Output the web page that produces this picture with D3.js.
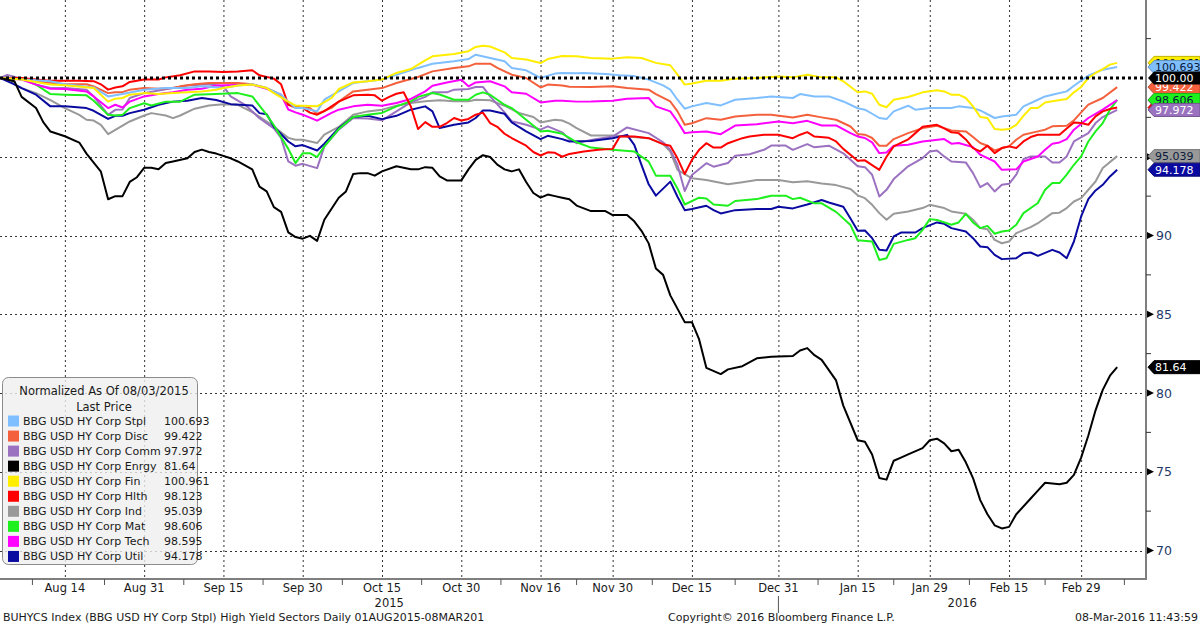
<!DOCTYPE html>
<html><head><meta charset="utf-8">
<script src="https://cdn.jsdelivr.net/npm/d3@7"></script>
<style>html,body{margin:0;padding:0;background:#fff;} svg{display:block;} text{font-family:"DejaVu Sans",sans-serif;}</style>
</head><body><svg id="c" width="1200" height="626"></svg>
<script>
// ---------- DATA (x = trading session number since 03-Aug-2015, y = normalized price) ----------
const seriesNames = ["BBG USD HY Corp Stpl","BBG USD HY Corp Disc","BBG USD HY Corp Comm","BBG USD HY Corp Enrgy","BBG USD HY Corp Fin","BBG USD HY Corp Hlth","BBG USD HY Corp Ind","BBG USD HY Corp Mat","BBG USD HY Corp Tech","BBG USD HY Corp Util"];
const seriesColors = ["#7fbfff","#f4603c","#9b72c0","#000000","#ffee00","#ff0000","#999999","#1ef01e","#ff00ff","#0a0aa0"];
const lastPrices = ["100.693","99.422","97.972","81.64","100.961","98.123","95.039","98.606","98.595","94.178"];

const stplData = [[0,100],[5,99.85],[7,99.8],[9,99.6],[13,99.4],[15,98.83],[17,98.98],[20,99.26],[23,99.36],[26,99.36],[28,99.47],[31,99.36],[33,99.53],[35,99.6],[37,99.36],[39,98.94],[40,98.5],[41,98.1],[42,98.1],[44,97.88],[45,98.62],[47,99.15],[49,99.68],[51,99.79],[53,99.9],[55,100.2],[58,100.64],[60,100.9],[63,101.06],[65,101.2],[66,101.48],[68,101.27],[70,101.06],[71,100.64],[73,100.49],[75,100.0],[77,100.28],[78,100.32],[80,100.3],[81,100.32],[84,100.25],[86,100.17],[88,100.12],[90,99.9],[92,99.53],[93,99.26],[94,98.62],[95,98.05],[96,98.2],[98,98.41],[100,98.26],[102,98.62],[105,98.73],[107,98.83],[110,98.73],[111,98.98],[113,98.83],[115,98.83],[117,98.51],[119,98.08],[120,97.99],[121,97.73],[122,97.46],[123,97.39],[124,97.88],[126,98.24],[127,97.99],[129,98.09],[132,98.09],[133,98.2],[135,98.09],[136,97.94],[138,97.46],[139,97.56],[141,97.67],[142,98.2],[144,98.62],[145,98.83],[146,98.94],[148,99.15],[149,99.51],[151,100.15],[153,100.53],[155,100.693]];
const discData = [[0,100],[3,99.96],[5,99.8],[7,99.7],[9,99.6],[12,99.6],[13,99.47],[15,99.04],[16,99.1],[17,99.1],[18,99.26],[20,99.36],[22,99.32],[24,99.36],[25,99.47],[27,99.6],[29,99.68],[33,99.68],[35,99.6],[37,99.36],[38,99.15],[39,98.83],[40,98.3],[41,98.1],[43,98.1],[44,97.73],[46,98.1],[47,98.5],[49,99.15],[51,99.26],[53,99.36],[55,99.68],[58,100.06],[60,100.42],[63,100.64],[65,100.74],[66,100.91],[68,100.91],[69,100.64],[71,100.21],[73,100.0],[75,99.4],[76,99.58],[78,99.52],[79,99.45],[82,99.43],[85,99.47],[87,99.36],[90,99.26],[91,98.98],[93,98.51],[94,97.88],[95,97.03],[96,97.13],[98,97.45],[100,97.35],[102,97.56],[105,97.66],[107,97.66],[110,97.49],[112,97.66],[114,97.5],[116,97.35],[118,96.92],[119,96.45],[120,96.4],[121,96.19],[122,95.7],[123,95.7],[124,96.12],[126,96.5],[128,96.82],[130,96.97],[131,96.82],[132,96.67],[134,96.61],[135,96.25],[136,95.87],[137,95.7],[138,95.4],[139,95.55],[140,95.66],[141,96.08],[142,96.4],[144,96.61],[145,96.72],[146,96.93],[148,96.97],[149,97.31],[150,97.82],[151,98.31],[153,98.73],[155,99.422]];
const commData = [[0,100],[1,100.2],[3,99.96],[5,99.58],[7,99.36],[9,99.36],[12,99.26],[13,98.83],[15,97.66],[16,97.98],[17,98.0],[18,98.73],[20,99.04],[22,99.2],[24,99.36],[26,99.53],[29,99.6],[31,99.47],[32,98.83],[34,98.3],[36,97.45],[38,96.8],[39,96.2],[40,94.7],[41,94.43],[42,94.55],[44,94.28],[45,95.66],[47,96.72],[49,97.46],[51,97.43],[53,97.31],[55,97.88],[57,98.45],[59,98.8],[60,99.09],[62,99.09],[63,99.26],[65,99.3],[66,99.43],[67,99.43],[68,98.83],[70,97.82],[71,97.25],[73,97.03],[75,96.72],[76,96.93],[78,96.55],[79,96.12],[80,95.86],[82,96.07],[85,96.28],[87,96.86],[90,96.5],[92,95.92],[93,95.44],[94,94.48],[95,92.82],[96,93.84],[98,94.59],[99,94.37],[101,94.6],[102,95.07],[104,95.16],[106,95.44],[107,95.71],[109,95.71],[110,95.44],[112,95.8],[113,95.6],[115,95.7],[117,95.22],[119,94.4],[120,94.34],[121,93.86],[122,92.48],[123,92.9],[124,93.58],[126,94.39],[128,94.92],[129,95.34],[130,95.4],[131,95.02],[132,94.7],[134,94.64],[135,93.96],[136,93.07],[137,93.33],[138,92.8],[139,93.22],[140,93.28],[141,93.86],[142,94.85],[143,95.02],[145,95.02],[146,94.64],[147,94.64],[148,95.02],[149,95.97],[151,96.5],[152,97.14],[153,97.52],[155,97.972]];
const enrgyData = [[0,100],[2,99.8],[3,98.8],[5,98.1],[6,97.2],[7,96.6],[9,96.3],[11,95.9],[12,95.2],[14,94.05],[15,92.3],[16,92.5],[17,92.5],[18,93.4],[19,93.7],[20,94.3],[21,94.3],[22,94.2],[23,94.6],[24,94.7],[26,94.9],[27,95.3],[28,95.45],[29,95.3],[30,95.2],[32,94.9],[33,94.7],[35,94.2],[36,93.1],[37,92.8],[38,91.8],[39,91.5],[40,90.2],[41,89.9],[42,89.8],[43,89.98],[44,89.66],[45,91.0],[47,92.4],[48,92.8],[49,93.9],[50,93.96],[51,93.96],[52,93.8],[53,94.07],[55,94.4],[56,94.3],[57,94.2],[58,94.2],[59,94.34],[60,94.3],[61,93.75],[62,93.5],[64,93.5],[65,94.2],[66,94.8],[67,95.1],[68,94.98],[69,94.5],[70,94.2],[71,94.07],[72,94.2],[73,93.4],[74,92.7],[75,92.4],[76,92.6],[77,92.5],[78,92.4],[79,92.3],[80,91.9],[82,91.55],[84,91.55],[85,91.3],[87,91.3],[88,90.9],[89,90.3],[90,89.5],[91,87.9],[92,87.5],[93,86.2],[95,84.5],[96,84.5],[97,83.4],[98,81.6],[100,81.2],[101,81.5],[103,81.7],[105,82.2],[107,82.3],[110,82.35],[111,82.7],[112,82.85],[113,82.4],[114,82.1],[116,80.8],[117,79.2],[119,77.0],[120,76.9],[121,76.1],[122,74.6],[123,74.5],[124,75.7],[125,75.9],[126,76.1],[128,76.5],[129,77.0],[130,77.1],[131,76.8],[132,76.3],[133,76.4],[134,75.6],[135,74.6],[136,73.2],[137,72.3],[138,71.6],[139,71.4],[140,71.5],[141,72.3],[143,73.3],[144,73.8],[145,74.3],[147,74.2],[148,74.3],[149,74.8],[150,75.9],[151,77.3],[152,78.9],[153,80.2],[154,81.1],[155,81.64]];
const finData = [[0,100],[3,99.9],[5,99.75],[7,99.58],[9,99.54],[13,99.36],[15,98.5],[16,98.69],[17,98.73],[18,98.94],[20,99.04],[22,98.98],[24,99.04],[26,99.1],[28,99.15],[30,99.26],[31,99.36],[33,99.53],[35,99.58],[37,99.36],[38,99.04],[40,98.5],[41,98.24],[42,98.24],[44,98.2],[46,98.73],[47,99.3],[49,99.72],[51,99.79],[53,99.9],[55,100.32],[57,100.57],[59,101.12],[60,101.38],[62,101.48],[63,101.53],[65,101.7],[66,101.97],[67,102.05],[68,102.0],[70,101.63],[71,101.27],[73,101.17],[75,100.95],[76,101.2],[78,101.4],[80,101.38],[82,101.27],[85,101.23],[87,101.32],[89,101.27],[91,100.96],[93,100.81],[94,100.21],[95,99.58],[96,99.65],[98,99.83],[100,99.83],[102,99.96],[105,100.0],[108,100.1],[110,100.04],[112,100.21],[114,100.04],[116,100.04],[117,99.79],[119,99.1],[120,99.15],[121,99.0],[122,98.3],[123,98.14],[124,98.62],[126,98.79],[127,98.94],[128,99.09],[130,99.22],[131,99.15],[132,98.94],[133,98.94],[134,98.73],[135,98.2],[136,97.52],[137,97.46],[138,96.76],[139,96.72],[140,96.76],[141,97.03],[142,97.6],[143,98.09],[144,98.09],[145,98.45],[146,98.52],[148,98.67],[149,99.09],[150,99.43],[151,100.0],[152,100.32],[153,100.57],[154,100.85],[155,100.961]];
const hlthData = [[0,100],[3,100],[5,99.9],[7,99.83],[11,99.83],[13,99.8],[14,99.6],[15,99.26],[16,99.4],[17,99.47],[18,99.75],[20,99.9],[22,99.9],[23,100.04],[25,100.17],[27,100.42],[29,100.42],[31,100.38],[33,100.42],[35,100.49],[36,100.17],[38,99.96],[39,99.6],[40,98.3],[41,98.2],[42,98.1],[43,97.8],[44,97.67],[45,97.9],[47,98.5],[49,98.9],[51,98.94],[52,98.9],[53,98.56],[54,98.8],[55,99.0],[56,99.1],[57,98.2],[58,96.76],[59,97.2],[60,96.9],[61,96.9],[62,97.14],[63,97.46],[64,97.3],[65,97.4],[66,97.67],[67,97.8],[68,97.14],[69,96.9],[70,96.46],[71,96.19],[73,95.7],[74,95.3],[75,95.08],[76,95.28],[77,95.25],[78,95.0],[79,95.18],[81,95.33],[83,95.44],[85,95.5],[86,96.28],[88,96.28],[90,96.18],[92,95.8],[93,95.7],[94,94.9],[95,93.9],[96,94.8],[97,95.44],[98,95.86],[99,95.58],[100,95.58],[101,95.86],[103,96.18],[104,96.28],[106,96.4],[108,96.4],[110,96.18],[111,96.4],[112,96.56],[113,96.28],[115,96.2],[116,95.97],[117,95.5],[119,94.75],[120,94.77],[122,94.17],[123,95.0],[124,95.66],[126,96.1],[127,96.5],[128,96.9],[130,97.03],[131,96.8],[132,96.55],[133,96.5],[134,96.1],[135,95.55],[136,95.34],[137,95.7],[138,95.23],[139,95.55],[140,95.66],[141,95.55],[142,95.97],[143,96.25],[144,96.4],[147,96.4],[148,96.8],[149,97.18],[150,97.14],[151,97.03],[152,97.56],[153,97.88],[154,98.03],[155,98.123]];
const indData = [[0,100],[1,100.15],[2,99.6],[3,99.36],[5,99.04],[7,98.6],[9,98.09],[11,97.66],[12,97.35],[13,97.3],[14,97.03],[15,96.43],[16,96.7],[17,96.98],[18,97.24],[20,97.62],[21,97.77],[23,97.62],[24,97.45],[25,97.62],[27,98.05],[29,98.26],[31,98.34],[33,98.3],[35,97.83],[37,97.24],[38,96.9],[40,96.2],[41,96.08],[42,96.08],[44,95.87],[45,96.4],[47,96.89],[49,97.67],[51,97.88],[53,97.99],[55,98.24],[57,98.41],[59,98.52],[61,98.58],[63,98.52],[65,98.52],[66,98.62],[68,98.58],[70,98.24],[72,97.78],[74,97.52],[75,97.18],[77,97.35],[78,97.3],[79,97.1],[80,96.82],[82,96.35],[85,96.35],[87,96.28],[90,96.18],[92,95.8],[93,95.33],[94,94.16],[96,93.63],[98,93.52],[101,93.25],[103,93.38],[105,93.52],[108,93.52],[110,93.38],[112,93.45],[114,93.3],[116,93.2],[118,92.95],[119,92.55],[120,92.37],[121,91.95],[122,91.42],[123,91.0],[124,91.38],[126,91.53],[128,91.74],[129,91.95],[131,91.74],[132,91.53],[134,91.38],[135,91.0],[136,90.47],[137,90.4],[138,89.72],[139,89.51],[140,89.62],[141,90.15],[143,90.53],[144,90.78],[146,91.42],[147,91.45],[148,91.74],[149,92.16],[150,92.37],[152,93.43],[153,94.28],[155,95.039]];
const matData = [[0,100],[3,99.96],[5,99.58],[7,98.98],[9,98.94],[12,98.9],[13,98.56],[15,97.66],[16,97.62],[17,97.66],[18,98.09],[20,98.4],[21,98.25],[23,98.5],[25,98.5],[27,98.94],[30,98.98],[33,99.04],[35,98.83],[37,97.66],[38,97.0],[40,95.5],[41,94.6],[42,95.23],[43,95.23],[44,94.98],[45,95.66],[47,96.76],[49,97.52],[51,97.67],[53,97.78],[55,98.2],[57,98.52],[58,98.8],[60,99.05],[61,98.95],[63,98.62],[65,98.62],[66,98.94],[67,99.09],[68,98.94],[70,98.3],[71,98.09],[73,97.35],[75,96.6],[76,96.65],[78,96.46],[79,96.2],[80,95.92],[82,95.58],[85,95.44],[88,95.33],[90,94.69],[91,93.8],[93,93.8],[94,92.99],[95,91.97],[97,92.4],[98,92.35],[99,91.97],[101,91.89],[102,92.19],[105,92.31],[107,92.53],[109,92.53],[110,92.31],[111,92.4],[113,92.04],[114,92.04],[116,91.5],[118,90.66],[119,89.7],[121,89.62],[122,88.45],[123,88.56],[124,89.47],[126,89.72],[127,89.83],[128,90.36],[129,91.04],[130,90.99],[132,90.68],[133,90.83],[134,91.38],[135,90.83],[136,90.47],[137,90.61],[138,90.11],[139,90.25],[140,90.32],[141,90.68],[142,91.42],[144,92.06],[145,92.9],[146,93.33],[147,93.33],[148,93.86],[149,94.49],[150,95.02],[151,95.97],[152,96.61],[153,97.14],[154,97.99],[155,98.606]];
const techData = [[0,100],[3,99.9],[5,99.58],[7,99.32],[9,99.3],[12,99.15],[13,98.83],[15,98.09],[16,98.3],[17,98.13],[18,98.5],[20,98.83],[22,98.98],[24,99.1],[26,99.26],[28,99.32],[30,99.53],[35,99.58],[37,99.32],[39,98.94],[40,98.0],[41,97.82],[42,97.67],[44,97.29],[46,97.78],[47,97.99],[49,98.2],[51,98.3],[53,98.24],[55,98.41],[57,98.67],[59,99.15],[60,99.51],[62,99.72],[64,99.89],[65,99.47],[66,99.72],[68,99.79],[70,99.47],[71,99.09],[73,99.0],[75,98.45],[77,98.55],[78,98.55],[80,98.5],[82,98.51],[85,98.56],[87,98.68],[90,98.73],[91,98.2],[93,97.88],[94,97.24],[95,96.5],[96,96.56],[98,96.6],[100,96.43],[102,96.98],[105,97.07],[108,97.24],[110,97.13],[112,97.28],[114,96.98],[116,96.99],[118,96.5],[119,96.29],[120,96.19],[121,95.91],[122,95.23],[123,95.27],[124,95.7],[126,95.76],[128,95.97],[131,96.12],[132,95.83],[133,95.87],[135,95.61],[136,95.13],[138,94.7],[139,94.17],[141,94.2],[142,94.7],[144,95.02],[145,95.44],[146,95.83],[147,95.91],[148,96.12],[149,96.72],[151,97.46],[153,97.99],[155,98.595]];
const utilData = [[0,100],[2,99.6],[3,99.36],[5,98.94],[7,98.2],[9,98.2],[12,98.09],[13,97.92],[15,97.4],[16,97.6],[17,97.6],[18,97.77],[20,97.98],[22,98.3],[24,98.5],[26,98.56],[28,98.73],[30,98.6],[32,98.34],[35,98.26],[36,97.77],[37,97.7],[38,96.9],[40,95.97],[41,95.66],[42,95.74],[44,95.4],[45,95.83],[47,96.82],[49,97.52],[51,97.6],[53,97.39],[55,97.6],[57,97.99],[59,98.2],[60,97.88],[61,96.82],[63,97.03],[65,97.18],[66,97.46],[67,97.94],[68,97.94],[70,97.73],[71,97.18],[73,96.61],[75,96.12],[76,96.33],[78,96.12],[79,95.97],[82,96.0],[85,96.18],[87,96.39],[88,95.75],[89,94.48],[90,93.25],[91,92.53],[93,93.42],[94,92.46],[95,91.61],[96,91.68],[98,91.89],[99,91.61],[100,91.4],[102,91.61],[105,91.68],[107,91.68],[108,91.83],[110,91.72],[112,91.97],[114,92.25],[115,92.1],[117,91.83],[118,91.08],[119,90.3],[120,90.32],[121,89.83],[122,89.09],[123,89.05],[124,89.94],[125,90.19],[127,90.19],[128,90.47],[130,90.83],[131,90.74],[132,90.47],[134,90.25],[135,89.83],[136,89.3],[137,89.26],[138,88.77],[139,88.5],[141,88.56],[142,88.88],[143,88.92],[144,88.71],[146,89.09],[147,88.92],[148,88.56],[149,89.62],[150,91.21],[151,92.31],[152,92.86],[153,93.22],[154,93.75],[155,94.178]];

const xTickSessions = [9,20,31,42,53,64,75,85,96,108,119,129,140,150];
const xTickLabels = ["Aug 14","Aug 31","Sep 15","Sep 30","Oct 15","Oct 30","Nov 16","Nov 30","Dec 15","Dec 31","Jan 15","Jan 29","Feb 15","Feb 29"];
const xMinorSessions = [4.5,14.5,25.5,36.5,47.5,58.5,69.5,80,90.5,102,113.5,124,134.5,145,156];
const yearLabels = ["2015","2016"];
const yearSpans = [[0,108],[108,159]];
const yTicks = [70,75,80,85,90,95];
const yMinorTicks = [72.5,77.5,82.5,87.5,92.5,97.5,102.5];
const refLevel = 100;
const refLabel = "100.00";
const legendTitle = "Normalized As Of 08/03/2015";
const legendSub = "Last Price";
const footerLeft = "BUHYCS Index (BBG USD HY Corp Stpl) High Yield Sectors  Daily 01AUG2015-08MAR201";
const footerMid = "Copyright\u00A9 2016 Bloomberg Finance L.P.";
const footerRight = "08-Mar-2016 11:43:59";

// ---------- DRAWING ----------
const allData = [stplData,discData,commData,enrgyData,finData,hlthData,indData,matData,techData,utilData];
const svg = d3.select("#c");
const W = 1200, H = 626;
const plotR = 1146, plotB = 579;
const x = d3.scaleLinear().domain([0,159]).range([0,plotR]);
const y = d3.scaleLinear().domain([70,100]).range([550.5,78]);

svg.append("rect").attr("width",W).attr("height",H).attr("fill","#fff");
svg.append("defs").append("clipPath").attr("id","pc").append("rect").attr("x",0).attr("y",0).attr("width",plotR).attr("height",plotB);

// grid
const grid = svg.append("g");
grid.selectAll("line.v").data(xTickSessions).join("line")
  .attr("x1",d=>x(d)+0.5).attr("x2",d=>x(d)+0.5).attr("y1",0).attr("y2",plotB)
  .attr("stroke","#333").attr("stroke-width",1).attr("stroke-dasharray","2,3");
grid.selectAll("line.h").data(yTicks).join("line")
  .attr("x1",0).attr("x2",plotR).attr("y1",d=>Math.round(y(d))+0.5).attr("y2",d=>Math.round(y(d))+0.5)
  .attr("stroke","#333").attr("stroke-width",1).attr("stroke-dasharray","2,3");

// lines
const line = d3.line().x(d=>x(d[0])).y(d=>y(d[1]));
const drawOrder = [6,2,9,7,8,1,5,0,4,3];
const lg = svg.append("g").attr("clip-path","url(#pc)");
drawOrder.forEach(i=>{
  lg.append("path").datum(allData[i]).attr("d",line).attr("fill","none")
    .attr("stroke",seriesColors[i]).attr("stroke-width",2).attr("stroke-linejoin","round");
});

// reference line at 100
svg.append("line").attr("x1",0).attr("x2",plotR).attr("y1",y(refLevel)).attr("y2",y(refLevel))
  .attr("stroke","#000").attr("stroke-width",3).attr("stroke-dasharray","3,3");

// axes lines
svg.append("line").attr("x1",0).attr("x2",plotR+1).attr("y1",plotB).attr("y2",plotB).attr("stroke","#7f7f7f").attr("stroke-width",2);
svg.append("line").attr("x1",plotR).attr("x2",plotR).attr("y1",0).attr("y2",plotB+1).attr("stroke","#7f7f7f").attr("stroke-width",2);

// x axis labels
const xa = svg.append("g");
xa.selectAll("text.xl").data(xTickSessions).join("text")
  .attr("x",d=>x(d)).attr("y",592).attr("text-anchor","middle")
  .attr("font-size",11.5).attr("fill","#1a1a1a").text((d,i)=>xTickLabels[i]);
xa.selectAll("line.mt").data(xMinorSessions).join("line")
  .attr("x1",d=>x(d)).attr("x2",d=>x(d)).attr("y1",plotB).attr("y2",plotB+6).attr("stroke","#555").attr("stroke-width",1);
xa.selectAll("text.yr").data(yearSpans).join("text")
  .attr("x",d=>x((d[0]+d[1])/2)).attr("y",607).attr("text-anchor","middle")
  .attr("font-size",11.5).attr("fill","#1a1a1a").text((d,i)=>yearLabels[i]);
xa.append("line").attr("x1",x(yearSpans[1][0])).attr("x2",x(yearSpans[1][0])).attr("y1",596).attr("y2",613).attr("stroke","#555");

// right axis
const ra = svg.append("g");
ra.selectAll("path.tri").data(yTicks).join("path")
  .attr("d",d=>{const c=y(d);return `M${plotR+1},${c-3.5} L${plotR+8},${c} L${plotR+1},${c+3.5} Z`;}).attr("fill","#000");
ra.selectAll("text.yl").data(yTicks).join("text")
  .attr("x",plotR+10).attr("y",d=>y(d)+4.5).attr("font-size",12.5).attr("fill","#1f3a68").text(d=>d);
ra.selectAll("line.ym").data(yMinorTicks).join("line")
  .attr("x1",plotR).attr("x2",plotR+5).attr("y1",d=>y(d)).attr("y2",d=>y(d)).attr("stroke","#333");

// value tags
function tagPath(c){const h=6.5;return `M${plotR+2},${c} L${plotR+8},${c-h} L${W},${c-h} L${W},${c+h} L${plotR+8},${c+h} Z`;}
const tagOrder = [4,0,5,8,1,7,2,6,9,3];
const darkText = {0:true,4:true,6:true,7:true};
const tg = svg.append("g");
tagOrder.forEach(i=>{
  const c = y(+lastPrices[i]);
  tg.append("path").attr("d",tagPath(c)).attr("fill",seriesColors[i]).attr("stroke",d3.color(seriesColors[i]).darker(0.8)).attr("stroke-width",1);
  tg.append("text").attr("x",plotR+9).attr("y",c+4).attr("font-size",11).attr("fill",darkText[i]?"#0b1a3a":"#fff").text(lastPrices[i]);
});
{
  const c = y(refLevel);
  tg.append("path").attr("d",tagPath(c)).attr("fill","#000");
  tg.append("text").attr("x",plotR+9).attr("y",c+4).attr("font-size",11).attr("fill","#fff").text(refLabel);
}

// legend
const lgd = svg.append("g");
lgd.append("rect").attr("x",2.5).attr("y",377.5).attr("width",195).attr("height",187).attr("rx",6)
  .attr("fill","#efefef").attr("fill-opacity",0.8).attr("stroke","#8c8c8c");
lgd.append("text").attr("x",104).attr("y",395).attr("text-anchor","middle").attr("font-size",11.5).attr("fill","#1a1a1a").text(legendTitle);
lgd.append("text").attr("x",104).attr("y",411).attr("text-anchor","middle").attr("font-size",11.5).attr("fill","#1a1a1a").text(legendSub);
const rows = lgd.selectAll("g.row").data(seriesNames).join("g").attr("transform",(d,i)=>`translate(0,${420.5+i*15.05})`);
rows.append("rect").attr("x",8).attr("y",-5).attr("width",11).attr("height",11).attr("fill",(d,i)=>seriesColors[i]);
rows.append("text").attr("x",23).attr("y",4.5).attr("font-size",11).attr("fill","#1a1a1a").text(d=>d);
rows.append("text").attr("x",164).attr("y",4.5).attr("font-size",11).attr("fill","#1a1a1a").text((d,i)=>lastPrices[i]);

// footer
svg.append("text").attr("x",3).attr("y",621).attr("font-size",11).attr("fill","#1a1a1a").text(footerLeft);
svg.append("text").attr("x",668).attr("y",621).attr("font-size",11).attr("fill","#1a1a1a").text(footerMid);
svg.append("text").attr("x",1198).attr("y",621).attr("text-anchor","end").attr("font-size",11).attr("fill","#1a1a1a").text(footerRight);
</script></body></html>
